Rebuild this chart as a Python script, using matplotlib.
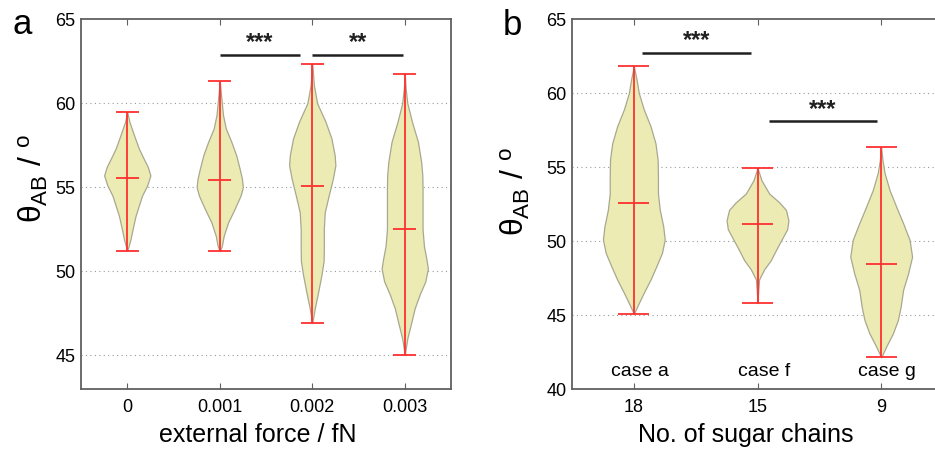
import matplotlib
matplotlib.use("Agg")
import matplotlib.pyplot as plt

plt.rcParams['font.family'] = ['Liberation Sans', 'DejaVu Sans']
plt.rcParams['mathtext.fontset'] = 'custom'
plt.rcParams['mathtext.rm'] = 'Liberation Sans'
plt.rcParams['mathtext.it'] = 'Liberation Sans'

# ---- panel a: external force ----
force_labels = ['0', '0.001', '0.002', '0.003']
a_means = [55.56, 55.42, 55.08, 52.5]
a_mins = [51.2, 51.2, 46.92, 45.02]
a_maxs = [59.48, 61.3, 62.34, 61.73]

# violin outlines: angle values and relative half widths
a_coords = [
    [51.2, 51.9, 52.5, 53.3, 53.9, 54.5, 55.1, 55.7, 56.2, 56.7, 57.3, 58.1, 58.9, 59.48],
    [51.2, 51.5, 52.1, 52.9, 53.7, 54.5, 55.0, 55.5, 56.1, 56.9, 57.7, 58.5, 59.3, 60.0, 60.7, 61.3],
    [46.92, 47.8, 48.8, 49.8, 50.6, 51.3, 52.5, 53.5, 54.5, 55.5, 56.3, 56.9, 57.9, 58.9, 60.0,
     61.07, 62.34],
    [45.02, 46.0, 47.0, 47.8, 48.6, 49.4, 50.16, 50.7, 51.5, 52.5, 53.7, 54.9, 55.7, 56.5, 57.7,
     58.9, 60.0, 60.87, 61.73],
]
a_widths = [
    [0, 0.14, 0.23, 0.36, 0.5, 0.64, 0.86, 1.0, 0.89, 0.71, 0.5, 0.29, 0.09, 0],
    [0, 0.09, 0.17, 0.36, 0.64, 0.9, 1.0, 0.96, 0.86, 0.71, 0.5, 0.26, 0.14, 0.09, 0.04, 0],
    [0, 0.11, 0.26, 0.4, 0.49, 0.5, 0.5, 0.54, 0.71, 0.89, 1.0, 0.97, 0.83, 0.57, 0.21, 0.07, 0],
    [0, 0.11, 0.29, 0.43, 0.64, 0.89, 1.0, 0.94, 0.83, 0.77, 0.77, 0.77, 0.76, 0.71, 0.57, 0.31,
     0.11, 0.04, 0],
]

# ---- panel b: number of sugar chains ----
chain_labels = ['18', '15', '9']
case_labels = ['case a', 'case f', 'case g']
b_means = [52.57, 51.17, 48.45]
b_mins = [45.09, 45.8, 42.14]
b_maxs = [61.8, 54.93, 56.33]
b_coords = [
    [45.09, 45.8, 46.5, 47.4, 48.3, 49.2, 50.1, 51.0, 52.1, 53.2, 54.4, 55.5, 56.6, 57.75, 58.9,
     60.0, 60.9, 61.8],
    [45.8, 46.5, 47.4, 48.1, 48.7, 49.4, 50.1, 50.8, 51.4, 52.1, 52.6, 53.2, 54.1, 54.93],
    [42.14, 42.86, 43.76, 44.66, 45.56, 46.7, 47.8, 48.94, 50.07, 51.2, 52.3, 53.45, 54.6, 55.5,
     56.33],
]
b_widths = [
    [0, 0.16, 0.32, 0.54, 0.73, 0.91, 1.0, 0.95, 0.84, 0.78, 0.78, 0.77, 0.7, 0.54, 0.32, 0.16,
     0.09, 0],
    [0, 0.02, 0.05, 0.22, 0.43, 0.6, 0.78, 0.96, 1.0, 0.92, 0.71, 0.38, 0.13, 0],
    [0, 0.16, 0.38, 0.54, 0.63, 0.71, 0.87, 1.0, 0.92, 0.71, 0.49, 0.27, 0.11, 0.04, 0],
]

# significance brackets: (x start, x end, y, stars)
a_sig = [(1.0, 1.87, 62.86, '***'), (2.0, 2.98, 62.86, '**')]
b_sig = [(0.07, 0.95, 62.72, '***'), (1.09, 1.97, 58.1, '***')]

FILL = '#ebebb3'
EDGE = '#a8a890'
RED = '#ff3030'


def draw_violins(ax, coords, widths, means, mins, maxs):
    stats = []
    for c, w, m, lo, hi in zip(coords, widths, means, mins, maxs):
        stats.append({'coords': c, 'vals': w, 'mean': m, 'median': m,
                      'min': lo, 'max': hi})
    parts = ax.violin(stats, positions=list(range(len(stats))), widths=0.5,
                      showmeans=True, showextrema=True)
    for body in parts['bodies']:
        body.set_facecolor(FILL)
        body.set_edgecolor(EDGE)
        body.set_linewidth(0.9)
        body.set_alpha(1)
    for key in ['cmeans', 'cmins', 'cmaxes', 'cbars']:
        parts[key].set_color(RED)
        parts[key].set_linewidth(1.3)


def style_axes(ax, yticks):
    for s in ax.spines.values():
        s.set_color('#606060')
        s.set_linewidth(1.3)
    ax.set_yticks(yticks)
    ax.tick_params(axis='y', length=0, labelsize=13, pad=4)
    ax.tick_params(axis='x', direction='in', length=4, top=True, labelsize=13, pad=7,
                   color='#606060')
    for y in yticks:
        if ax.get_ylim()[0] < y < ax.get_ylim()[1]:
            ax.axhline(y, color='#999999', lw=0.8, ls=(0, (1, 3)), zorder=0)


def sig_bars(ax, sigs):
    for x0, x1, y, stars in sigs:
        ax.plot([x0, x1], [y, y], color='#202020', lw=1.8, solid_capstyle='butt')
        ax.annotate(stars, xy=((x0 + x1) / 2, y), xytext=(0, 4), textcoords='offset points',
                    ha='center', va='baseline', fontsize=17, fontweight='bold',
                    color='#202020')


fig = plt.figure(figsize=(9.35, 4.53), dpi=100)
ax_a = fig.add_axes([81 / 935, 64 / 453, 370 / 935, 370 / 453])
ax_b = fig.add_axes([572 / 935, 64 / 453, 371 / 935, 370 / 453])

ylab = r'$\theta_{\rm AB}$ / $^{\rm o}$'

# panel a
draw_violins(ax_a, a_coords, a_widths, a_means, a_mins, a_maxs)
ax_a.set_xlim(-0.5, 3.5)
ax_a.set_ylim(43, 65)
style_axes(ax_a, [45, 50, 55, 60, 65])
ax_a.set_xticks(range(len(force_labels)))
ax_a.set_xticklabels(force_labels)
sig_bars(ax_a, a_sig)
ax_a.set_xlabel('external force / fN', fontsize=18)
ax_a.xaxis.set_label_coords(0.479, -0.092)
ax_a.set_ylabel(ylab, fontsize=23)
ax_a.yaxis.set_label_coords(-0.084, 0.57)
fig.text(22 / 935, 1 - 34 / 453, 'a', fontsize=25, ha='center', va='baseline')

# panel b
draw_violins(ax_b, b_coords, b_widths, b_means, b_mins, b_maxs)
ax_b.set_xlim(-0.5, 2.5)
ax_b.set_ylim(40, 65)
style_axes(ax_b, [40, 45, 50, 55, 60, 65])
ax_b.set_xticks(range(len(chain_labels)))
ax_b.set_xticklabels(chain_labels)
for i, lab in enumerate(case_labels):
    ax_b.text(i + 0.05, 41.15, lab, ha='center', va='center', fontsize=14)
sig_bars(ax_b, b_sig)
ax_b.set_xlabel('No. of sugar chains', fontsize=18)
ax_b.xaxis.set_label_coords(0.469, -0.092)
ax_b.set_ylabel(ylab, fontsize=23)
ax_b.yaxis.set_label_coords(-0.108, 0.535)
fig.text(512 / 935, 1 - 35 / 453, 'b', fontsize=25, ha='center', va='baseline')

fig.savefig('out.png', dpi=100)
